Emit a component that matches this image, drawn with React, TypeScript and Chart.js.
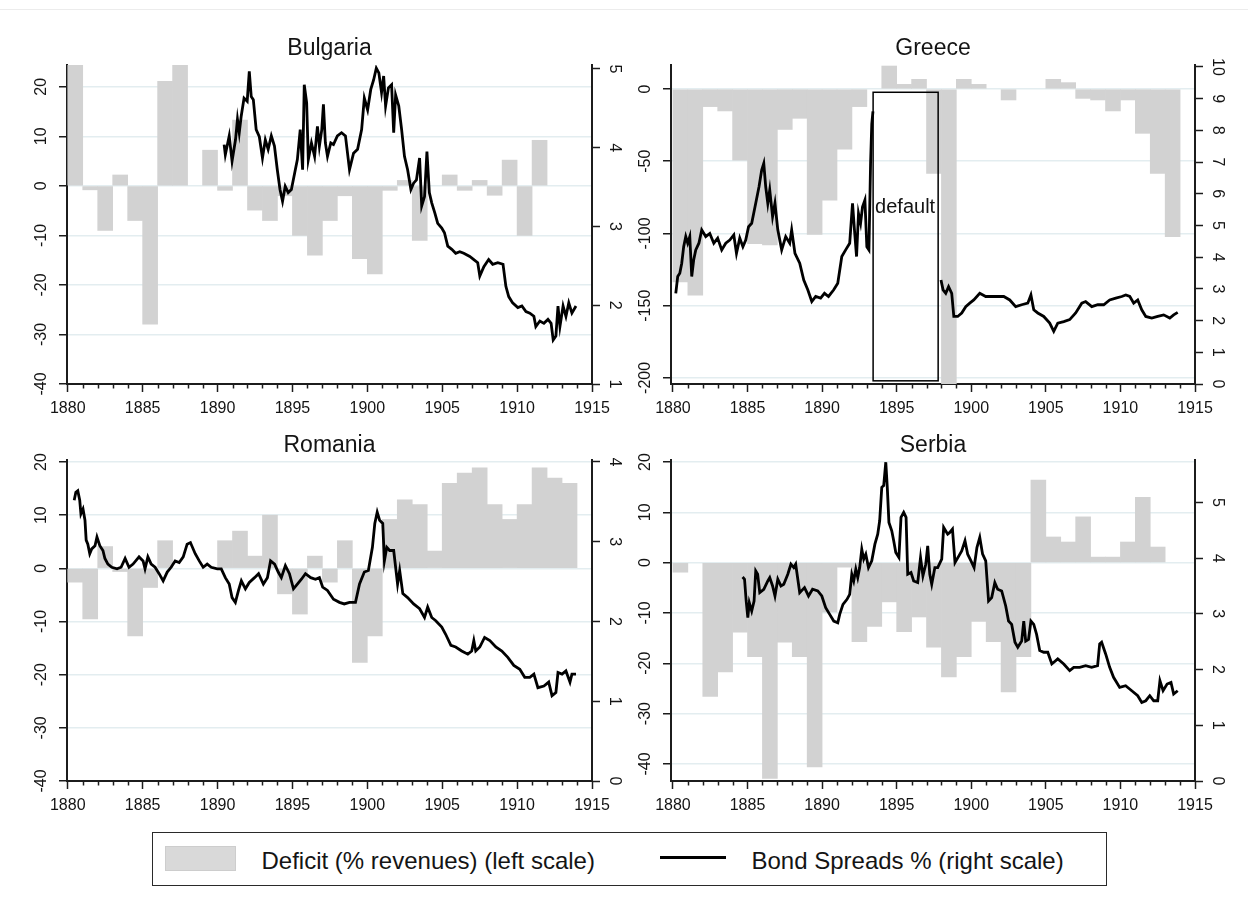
import React, { useEffect, useRef } from "react";
import { Chart, registerables } from "chart.js";

Chart.register(...registerables);

const FONT = '"Liberation Sans", Arial, Helvetica, sans-serif';
const TEXT = "#141414";
const AXIS = "#1c1c1c";
const GRID = "#e3edf0";
const BAR = "#d2d2d2";

Chart.defaults.font.family = FONT;

// ---------- data ----------
const deficitYears = [
  1880, 1881, 1882, 1883, 1884, 1885, 1886, 1887, 1888, 1889,
  1890, 1891, 1892, 1893, 1894, 1895, 1896, 1897, 1898, 1899,
  1900, 1901, 1902, 1903, 1904, 1905, 1906, 1907, 1908, 1909,
  1910, 1911, 1912, 1913,
];
const xTickYears = [1880, 1885, 1890, 1895, 1900, 1905, 1910, 1915];

const bulgariaDeficit = [
  24.4, -0.8, -9, 2.2, -7, -27.9, 21.1, 24.4, null, 7.2,
  -0.9, 13.3, -4.9, -7, -2, -10, -14, -7, -2, -14.7,
  -17.8, -0.9, 1.1, -11, null, 2.2, -0.9, 1.1, -1.9, 5.2,
  -10, 9.2, null, null,
];
const greeceDeficit = [
  -133.5, -142.7, -12.2, -15.2, -49.2, -107, -108, -28, -20.3, -100.7,
  -77, -41.6, -12.2, null, 15.9, 3.2, 6.7, -58.4, -204, 6.7,
  3.2, null, -7.6, null, null, 6.7, 4.4, -6.5, -7.6, -15.2,
  -7.6, -30.7, -58.4, -102.3,
];
const romaniaDeficit = [
  -2.6, -9.5, 4.1, -0.6, -12.7, -3.6, 5.2, null, null, null,
  5.2, 7.0, 2.3, 10, -4.8, -8.6, 2.3, -2.6, 5.2, -17.7,
  -12.7, 9.2, 12.9, 12, 3.25, 16, 17.9, 18.9, 12, 9.2,
  12, 18.9, 17, 16,
];
const serbiaDeficit = [
  -1.9, null, -26.6, -21.7, -13.8, -18.7, -42.9, -15.8, -18.7, -40.6,
  -9.8, -0.9, -15.7, -12.7, -7.8, -13.7, -10.8, -16.8, -22.7, -18.7,
  -11.7, -15.7, -25.7, -18.7, 16.4, 5.1, 4.1, 9.1, 1.1, 1.1,
  4.1, 13.0, 3.1, null,
];

const bulgariaSpreadDates = [
  1890.44, 1890.52, 1890.78, 1890.97, 1891.2, 1891.33, 1891.45, 1891.58, 1891.77, 1891.98,
  1892.12, 1892.25, 1892.39, 1892.58, 1892.79, 1893.0, 1893.19, 1893.38, 1893.59, 1893.8,
  1893.99, 1894.17, 1894.34, 1894.52, 1894.72, 1894.93, 1895.15, 1895.33, 1895.52, 1895.68,
  1895.79, 1895.95, 1896.06, 1896.27, 1896.48, 1896.67, 1896.8, 1896.96, 1897.07, 1897.2,
  1897.34, 1897.56, 1897.74, 1898.0, 1898.28, 1898.54, 1898.81, 1899.08, 1899.35, 1899.62,
  1899.8, 1900.02, 1900.23, 1900.42, 1900.6, 1900.77, 1900.95, 1901.09, 1901.22, 1901.41,
  1901.62, 1901.76, 1901.89, 1902.1, 1902.29, 1902.48, 1902.69, 1902.91, 1903.09, 1903.28,
  1903.49, 1903.63, 1903.82, 1903.98, 1904.14, 1904.3, 1904.51, 1904.7, 1904.97, 1905.15,
  1905.37, 1905.64, 1905.9, 1906.17, 1906.44, 1906.84, 1907.11, 1907.37, 1907.51, 1907.78,
  1908.1, 1908.37, 1908.71, 1909.06, 1909.25, 1909.44, 1909.7, 1910.05, 1910.32, 1910.59,
  1910.85, 1911.12, 1911.25, 1911.52, 1911.79, 1912.06, 1912.27, 1912.41, 1912.59, 1912.73,
  1912.86, 1913.07, 1913.26, 1913.45, 1913.66, 1913.93,
];
const bulgariaSpreadValues = [
  4.04, 3.91, 4.15, 3.83, 4.1, 4.36, 4.19, 4.4, 4.63, 4.59,
  4.97, 4.65, 4.61, 4.23, 4.14, 3.87, 4.1, 3.98, 4.15, 4.02,
  3.72, 3.47, 3.32, 3.51, 3.43, 3.47, 3.68, 3.85, 4.23, 3.72,
  4.8, 4.57, 3.85, 4.06, 3.89, 4.27, 4.02, 4.23, 4.55, 4.06,
  3.89, 4.06, 4.04, 4.15, 4.19, 4.15, 3.72, 3.93, 3.98, 4.23,
  4.63, 4.48, 4.74, 4.86, 5.01, 4.95, 4.7, 4.91, 4.53, 4.76,
  4.8, 4.19, 4.67, 4.53, 4.23, 3.89, 3.72, 3.47, 3.55, 3.59,
  3.87, 3.26, 3.38, 3.95, 3.43, 3.3, 3.17, 3.04, 2.98, 2.92,
  2.75, 2.71, 2.66, 2.68, 2.66, 2.62, 2.58, 2.54, 2.37, 2.49,
  2.58, 2.52, 2.54, 2.52, 2.24, 2.11, 2.03, 1.97, 1.99, 1.92,
  1.9, 1.86, 1.73, 1.8, 1.77, 1.82, 1.77, 1.56, 1.61, 1.99,
  1.73, 1.99, 1.86, 2.03, 1.9, 1.99,
];

const greeceSpreadDates = [
  1880.19, 1880.32, 1880.46, 1880.59, 1880.72, 1880.86, 1880.99, 1881.13, 1881.26, 1881.39,
  1881.53, 1881.74, 1881.93, 1882.2, 1882.47, 1882.74, 1883.0, 1883.27, 1883.54, 1883.81,
  1884.08, 1884.26, 1884.48, 1884.69, 1884.88, 1885.07, 1885.28, 1885.55, 1885.77, 1885.95,
  1886.09, 1886.22, 1886.36, 1886.49, 1886.68, 1886.84, 1887.03, 1887.29, 1887.56, 1887.83,
  1887.96, 1888.18, 1888.5, 1888.77, 1889.04, 1889.31, 1889.57, 1889.9, 1890.16, 1890.43,
  1890.78, 1891.05, 1891.32, 1891.58, 1891.85, 1892.04, 1892.17, 1892.31, 1892.44, 1892.58,
  1892.71, 1892.87, 1893.0, 1893.14, 1893.25, 1893.33, 1893.41,
  1895.7,
  1897.97, 1898.11, 1898.29, 1898.48, 1898.69, 1898.83, 1899.09, 1899.36, 1899.63, 1899.9,
  1900.17, 1900.57, 1900.97, 1901.37, 1901.78, 1902.18, 1902.58, 1902.98, 1903.38, 1903.79,
  1904.0, 1904.19, 1904.46, 1904.86, 1905.26, 1905.53, 1905.8, 1906.2, 1906.6, 1907.0,
  1907.41, 1907.67, 1908.08, 1908.48, 1908.88, 1909.28, 1909.69, 1910.09, 1910.36, 1910.63,
  1910.89, 1911.16, 1911.43, 1911.7, 1912.1, 1912.5, 1912.9, 1913.31, 1913.57, 1913.84,
];
const greeceSpreadValues = [
  2.86, 3.39, 3.49, 3.81, 4.33, 4.65, 4.44, 4.65, 3.39, 3.91,
  4.23, 4.44, 4.86, 4.65, 4.75, 4.44, 4.6, 4.23, 4.44, 4.54,
  4.7, 4.12, 4.6, 4.33, 4.54, 4.96, 5.07, 5.7, 6.22, 6.75,
  6.96, 6.22, 5.7, 6.12, 5.28, 5.7, 4.86, 4.23, 4.65, 4.44,
  4.86, 4.12, 3.81, 3.28, 2.97, 2.6, 2.76, 2.71, 2.86, 2.76,
  2.97, 3.18, 4.02, 4.23, 4.44, 5.7, 4.86, 4.02, 5.38, 5.07,
  5.59, 5.8, 4.33, 4.23, 6.96, 8.2, 8.6,
  null,
  3.28, 2.97, 2.86, 3.07, 2.86, 2.13, 2.13, 2.24, 2.44, 2.55,
  2.65, 2.86, 2.76, 2.76, 2.76, 2.76, 2.65, 2.44, 2.5, 2.55,
  2.81, 2.34, 2.24, 2.13, 1.92, 1.66, 1.92, 1.97, 2.03, 2.24,
  2.55, 2.6, 2.44, 2.5, 2.5, 2.65, 2.71, 2.76, 2.81, 2.76,
  2.55, 2.65, 2.34, 2.13, 2.08, 2.13, 2.18, 2.08, 2.18, 2.26,
];

const romaniaSpreadDates = [
  1880.43, 1880.54, 1880.67, 1880.8, 1880.88, 1881.02, 1881.15, 1881.23, 1881.34, 1881.47,
  1881.6, 1881.82, 1881.95, 1882.14, 1882.35, 1882.48, 1882.68, 1882.94, 1883.29, 1883.56,
  1883.83, 1884.09, 1884.36, 1884.76, 1885.03, 1885.16, 1885.35, 1885.57, 1885.83, 1886.1,
  1886.37, 1886.64, 1886.9, 1887.17, 1887.44, 1887.71, 1887.97, 1888.19, 1888.51, 1888.78,
  1889.04, 1889.31, 1889.58, 1889.98, 1890.25, 1890.52, 1890.78, 1890.97, 1891.19, 1891.4,
  1891.59, 1891.86, 1892.12, 1892.47, 1892.74, 1893.06, 1893.33, 1893.54, 1893.81, 1894.05,
  1894.26, 1894.53, 1894.8, 1895.07, 1895.33, 1895.6, 1895.87, 1896.22, 1896.54, 1896.8,
  1897.02, 1897.34, 1897.74, 1898.14, 1898.46, 1898.81, 1899.21, 1899.48, 1899.8, 1900.07,
  1900.34, 1900.5, 1900.66, 1900.82, 1901.03, 1901.14, 1901.3, 1901.49, 1901.76, 1902.02,
  1902.16, 1902.37, 1902.69, 1903.09, 1903.49, 1903.82, 1904.03, 1904.3, 1904.57, 1904.97,
  1905.23, 1905.58, 1905.9, 1906.3, 1906.71, 1906.97, 1907.11, 1907.24, 1907.51, 1907.83,
  1908.18, 1908.58, 1908.98, 1909.38, 1909.78, 1910.18, 1910.51, 1910.85, 1911.12, 1911.39,
  1911.79, 1912.11, 1912.33, 1912.59, 1912.73, 1913.0, 1913.26, 1913.53, 1913.66, 1913.93,
];
const romaniaSpreadValues = [
  3.52, 3.62, 3.64, 3.52, 3.35, 3.41, 3.27, 3.02, 2.97, 2.85,
  2.91, 2.95, 3.06, 2.95, 2.89, 2.79, 2.72, 2.68, 2.66, 2.68,
  2.79, 2.68, 2.72, 2.81, 2.76, 2.66, 2.81, 2.72, 2.68, 2.6,
  2.51, 2.62, 2.68, 2.76, 2.74, 2.81, 2.97, 2.99, 2.85, 2.76,
  2.68, 2.72, 2.68, 2.66, 2.66, 2.55, 2.47, 2.3, 2.24, 2.39,
  2.51, 2.41, 2.49, 2.55, 2.6, 2.47, 2.55, 2.76, 2.72, 2.62,
  2.55, 2.7, 2.6, 2.41, 2.47, 2.53, 2.6, 2.55, 2.53, 2.55,
  2.43, 2.39, 2.28, 2.24, 2.22, 2.24, 2.24, 2.47, 2.62, 2.64,
  2.93, 3.23, 3.37, 3.27, 3.23, 2.76, 2.93, 2.89, 2.89, 2.47,
  2.64, 2.35, 2.3, 2.22, 2.16, 2.05, 2.18, 2.05, 2.01, 1.93,
  1.84, 1.7, 1.68, 1.63, 1.59, 1.63, 1.76, 1.63, 1.68, 1.8,
  1.76, 1.68, 1.63, 1.55, 1.45, 1.4, 1.3, 1.3, 1.34, 1.17,
  1.19, 1.24, 1.07, 1.11, 1.36, 1.34, 1.38, 1.24, 1.34, 1.34,
];

const serbiaSpreadDates = [
  1884.67, 1884.8, 1884.91, 1885.02, 1885.12, 1885.28, 1885.44, 1885.55, 1885.68, 1885.82,
  1886.09, 1886.36, 1886.49, 1886.68, 1886.84, 1887.03, 1887.24, 1887.43, 1887.7, 1887.91,
  1888.1, 1888.23, 1888.5, 1888.82, 1889.09, 1889.36, 1889.71, 1889.98, 1890.24, 1890.51,
  1890.78, 1891.05, 1891.18, 1891.4, 1891.67, 1891.85, 1891.99, 1892.12, 1892.26, 1892.39,
  1892.52, 1892.66, 1892.79, 1892.93, 1893.11, 1893.33, 1893.54, 1893.73, 1893.86, 1894.0,
  1894.13, 1894.27, 1894.37, 1894.48, 1894.67, 1894.8, 1894.94, 1895.15, 1895.29, 1895.47,
  1895.63, 1895.74, 1895.96, 1896.14, 1896.41, 1896.6, 1896.76, 1896.95, 1897.08, 1897.22,
  1897.35, 1897.56, 1897.75, 1898.02, 1898.15, 1898.42, 1898.56, 1898.74, 1898.91, 1899.17,
  1899.36, 1899.58, 1899.76, 1899.98, 1900.19, 1900.38, 1900.57, 1900.76, 1900.97, 1901.16,
  1901.37, 1901.58, 1901.77, 1902.04, 1902.31, 1902.5, 1902.71, 1902.93, 1903.12, 1903.38,
  1903.52, 1903.65, 1903.84, 1904.0, 1904.19, 1904.38, 1904.59, 1904.86, 1905.13, 1905.4,
  1905.8, 1906.2, 1906.6, 1906.87, 1907.27, 1907.67, 1908.07, 1908.47, 1908.61, 1908.74,
  1909.01, 1909.28, 1909.54, 1909.95, 1910.35, 1910.76, 1911.16, 1911.43, 1911.7, 1911.97,
  1912.23, 1912.5, 1912.65, 1912.86, 1913.13, 1913.39, 1913.57, 1913.84,
];
const serbiaSpreadValues = [
  3.66, 3.62, 3.23, 2.93, 3.2, 3.05, 3.23, 3.77, 3.71, 3.38,
  3.44, 3.59, 3.65, 3.5, 3.32, 3.62, 3.5, 3.53, 3.71, 3.89,
  3.83, 3.89, 3.38, 3.47, 3.32, 3.44, 3.41, 3.32, 3.11, 2.99,
  2.87, 2.84, 2.99, 3.17, 3.26, 3.35, 3.71, 3.59, 3.8, 3.65,
  3.83, 4.16, 3.98, 4.07, 3.83, 3.95, 4.25, 4.43, 4.67, 5.27,
  5.3, 5.72, 5.27, 4.64, 4.49, 4.31, 4.1, 4.01, 4.73, 4.82,
  4.73, 3.71, 3.74, 3.59, 3.56, 4.01, 3.68, 3.89, 4.22, 3.71,
  3.53, 3.83, 3.83, 3.98, 4.55, 4.43, 4.46, 4.52, 3.92, 4.04,
  4.13, 4.31, 4.07, 3.95, 3.83, 4.19, 4.37, 4.07, 3.95, 3.23,
  3.29, 3.56, 3.44, 3.41, 3.14, 2.87, 2.81, 2.49, 2.4, 2.51,
  2.87, 2.51, 2.54, 2.87, 2.81, 2.63, 2.34, 2.31, 2.31, 2.1,
  2.19, 2.1, 1.98, 2.04, 2.04, 2.07, 2.04, 2.07, 2.46, 2.49,
  2.28, 2.04, 1.86, 1.68, 1.71, 1.62, 1.53, 1.41, 1.44, 1.53,
  1.44, 1.44, 1.8, 1.62, 1.74, 1.77, 1.56, 1.62,
];

const bulgariaLeftTicks = [-40, -30, -20, -10, 0, 10, 20];
const bulgariaRightTicks = [1, 2, 3, 4, 5];
const greeceLeftTicks = [-200, -150, -100, -50, 0];
const greeceRightTicks = [0, 1, 2, 3, 4, 5, 6, 7, 8, 9, 10];
const romaniaLeftTicks = [-40, -30, -20, -10, 0, 10, 20];
const romaniaRightTicks = [0, 1, 2, 3, 4];
const serbiaLeftTicks = [-40, -30, -20, -10, 0, 10, 20];
const serbiaRightTicks = [0, 1, 2, 3, 4, 5];

// Greek default period annotation (x in years, y in right-scale units)
const greeceDefaultPeriod = { start: 1893.42, end: 1897.78, top: 9.2, bottom: 0.1, labelY: 5.4, label: "default" };

type PanelCfg = {
  title: string;
  left: number;
  top: number;
  width: number;
  height: number;
  padding: { left: number; right: number; top: number; bottom: number };
  titleBaseline: number;
  xMin: number;
  xMax: number;
  leftMin: number;
  leftMax: number;
  leftTicks: number[];
  rightMin: number;
  rightMax: number;
  rightTicks: number[];
  deficit: (number | null)[];
  spreadDates: number[];
  spreadValues: (number | null)[];
  defaultBox?: typeof greeceDefaultPeriod;
};

const panels: PanelCfg[] = [
  {
    title: "Bulgaria", left: 0, top: 0, width: 624, height: 420,
    padding: { left: 59, right: 24, top: 65, bottom: 6 }, titleBaseline: 55,
    xMin: 1879.95, xMax: 1915,
    leftMin: -40, leftMax: 24.4, leftTicks: bulgariaLeftTicks,
    rightMin: 1, rightMax: 5.05, rightTicks: bulgariaRightTicks,
    deficit: bulgariaDeficit, spreadDates: bulgariaSpreadDates, spreadValues: bulgariaSpreadValues,
  },
  {
    title: "Greece", left: 624, top: 0, width: 624, height: 420,
    padding: { left: 39, right: 45, top: 65, bottom: 6 }, titleBaseline: 55,
    xMin: 1879.87, xMax: 1915,
    leftMin: -204.2, leftMax: 16.6, leftTicks: greeceLeftTicks,
    rightMin: 0, rightMax: 10.06, rightTicks: greeceRightTicks,
    deficit: greeceDeficit, spreadDates: greeceSpreadDates, spreadValues: greeceSpreadValues,
    defaultBox: greeceDefaultPeriod,
  },
  {
    title: "Romania", left: 0, top: 420, width: 624, height: 410,
    padding: { left: 59, right: 24, top: 40, bottom: 19 }, titleBaseline: 32,
    xMin: 1879.95, xMax: 1915,
    leftMin: -40, leftMax: 20.38, leftTicks: romaniaLeftTicks,
    rightMin: 0, rightMax: 4.025, rightTicks: romaniaRightTicks,
    deficit: romaniaDeficit, spreadDates: romaniaSpreadDates, spreadValues: romaniaSpreadValues,
  },
  {
    title: "Serbia", left: 624, top: 420, width: 624, height: 410,
    padding: { left: 39, right: 45, top: 40, bottom: 19 }, titleBaseline: 32,
    xMin: 1879.87, xMax: 1915,
    leftMin: -43.4, leftMax: 20.4, leftTicks: serbiaLeftTicks,
    rightMin: 0, rightMax: 5.76, rightTicks: serbiaRightTicks,
    deficit: serbiaDeficit, spreadDates: serbiaSpreadDates, spreadValues: serbiaSpreadValues,
  },
];

const decorPlugin = {
  id: "decor",
  afterDraw(chart: any, _args: any, opts: any) {
    const ctx: CanvasRenderingContext2D = chart.ctx;
    const { left, right, bottom } = chart.chartArea;
    const xs = chart.scales.x;
    const yl = chart.scales.y;
    const yr = chart.scales.y1;
    ctx.save();
    // title
    ctx.fillStyle = TEXT;
    ctx.font = `23px ${FONT}`;
    ctx.textAlign = "center";
    ctx.textBaseline = "alphabetic";
    ctx.fillText(opts.title, (left + right) / 2, opts.titleBaseline);
    // minor x ticks (every year)
    ctx.strokeStyle = AXIS;
    ctx.lineWidth = 1.5;
    for (let yv = Math.ceil(xs.min); yv <= Math.floor(xs.max); yv++) {
      if (yv % 5 === 0) continue;
      const px = Math.round(xs.getPixelForValue(yv)) + 0.5;
      ctx.beginPath();
      ctx.moveTo(px, bottom);
      ctx.lineTo(px, bottom + 4.5);
      ctx.stroke();
    }
    // rotated y labels
    ctx.font = `16px ${FONT}`;
    ctx.textAlign = "center";
    ctx.textBaseline = "middle";
    for (const t of yl.ticks) {
      const py = yl.getPixelForValue(t.value);
      ctx.save();
      ctx.translate(left - 25, py);
      ctx.rotate(-Math.PI / 2);
      ctx.fillText(String(t.value), 0, 0);
      ctx.restore();
    }
    for (const t of yr.ticks) {
      const py = yr.getPixelForValue(t.value);
      ctx.save();
      ctx.translate(right + 22, py);
      ctx.rotate(Math.PI / 2);
      ctx.fillText(String(t.value), 0, 0);
      ctx.restore();
    }
    // default period box
    const box = opts.defaultBox;
    if (box) {
      const x0 = xs.getPixelForValue(box.start);
      const x1 = xs.getPixelForValue(box.end);
      const y0 = yr.getPixelForValue(box.top);
      const y1 = yr.getPixelForValue(box.bottom);
      ctx.strokeStyle = "#000";
      ctx.lineWidth = 1.5;
      ctx.strokeRect(x0, y0, x1 - x0, y1 - y0);
      ctx.fillStyle = TEXT;
      ctx.font = `20px ${FONT}`;
      ctx.textAlign = "left";
      ctx.textBaseline = "alphabetic";
      ctx.fillText(box.label, x0 + 2, yr.getPixelForValue(box.labelY));
    }
    ctx.restore();
  },
};

function Panel({ cfg }: { cfg: PanelCfg }) {
  const ref = useRef<HTMLCanvasElement | null>(null);
  useEffect(() => {
    const canvas = ref.current;
    if (!canvas) return;
    const barData = deficitYears
      .map((yr, i) => ({ x: yr + 0.5, y: cfg.deficit[i] }))
      .filter((d) => d.y !== null && d.y !== undefined);
    const lineData = cfg.spreadDates.map((d, i) => ({ x: d, y: cfg.spreadValues[i] }));
    const leftMin = cfg.leftMin;
    const chart = new Chart(canvas, {
      type: "bar",
      data: {
        datasets: [
          {
            type: "bar",
            label: "Deficit (% revenues) (left scale)",
            data: barData as any,
            backgroundColor: BAR,
            borderWidth: 0,
            barPercentage: 1,
            categoryPercentage: 1,
            grouped: false,
            xAxisID: "x",
            yAxisID: "y",
            order: 2,
          } as any,
          {
            type: "line",
            label: "Bond Spreads % (right scale)",
            data: lineData as any,
            borderColor: "#000",
            borderWidth: 2.8,
            pointRadius: 0,
            tension: 0,
            spanGaps: false,
            xAxisID: "x",
            yAxisID: "y1",
            order: 1,
          } as any,
        ],
      },
      options: {
        responsive: false,
        animation: false,
        devicePixelRatio: 1,
        events: [],
        layout: { padding: cfg.padding },
        plugins: {
          legend: { display: false },
          tooltip: { enabled: false },
          title: { display: false },
          decor: { title: cfg.title, titleBaseline: cfg.titleBaseline, defaultBox: cfg.defaultBox },
        } as any,
        scales: {
          x: {
            type: "linear",
            position: "bottom",
            offset: false,
            min: cfg.xMin,
            max: cfg.xMax,
            afterBuildTicks: (s: any) => {
              s.ticks = xTickYears.map((v) => ({ value: v }));
            },
            afterFit: (s: any) => {
              s.height = 30;
            },
            ticks: {
              autoSkip: false,
              maxRotation: 0,
              minRotation: 0,
              color: TEXT,
              font: { family: FONT, size: 16 },
              padding: 7,
              callback: (v: any) => String(v),
            },
            grid: { offset: false, drawOnChartArea: false, drawTicks: true, tickLength: 8, tickColor: AXIS, tickWidth: 1.5 },
            border: { display: true, color: AXIS, width: 2 },
          },
          y: {
            type: "linear",
            position: "left",
            min: cfg.leftMin,
            max: cfg.leftMax,
            afterBuildTicks: (s: any) => {
              s.ticks = cfg.leftTicks.map((v) => ({ value: v }));
            },
            afterFit: (s: any) => {
              s.width = 8;
            },
            ticks: { display: false },
            grid: {
              drawOnChartArea: true,
              drawTicks: true,
              tickLength: 8,
              tickColor: AXIS,
              tickWidth: 1.5,
              lineWidth: 1.5,
              color: (c: any) => (c.tick && Math.abs(c.tick.value - leftMin) < 1e-6 ? "rgba(0,0,0,0)" : GRID),
            },
            border: { display: true, color: AXIS, width: 2 },
          },
          y1: {
            type: "linear",
            position: "right",
            min: cfg.rightMin,
            max: cfg.rightMax,
            afterBuildTicks: (s: any) => {
              s.ticks = cfg.rightTicks.map((v) => ({ value: v }));
            },
            afterFit: (s: any) => {
              s.width = 8;
            },
            ticks: { display: false },
            grid: { drawOnChartArea: false, drawTicks: true, tickLength: 8, tickColor: AXIS, tickWidth: 1.5 },
            border: { display: true, color: AXIS, width: 2 },
          },
        },
      } as any,
      plugins: [decorPlugin as any],
    });
    return () => chart.destroy();
  }, [cfg]);
  return (
    <canvas
      ref={ref}
      width={cfg.width}
      height={cfg.height}
      style={{ position: "absolute", left: cfg.left, top: cfg.top, width: cfg.width, height: cfg.height }}
    />
  );
}

function Legend() {
  const textStyle: React.CSSProperties = {
    position: "absolute",
    top: 16,
    font: `24px ${FONT}`,
    lineHeight: "24px",
    color: TEXT,
    whiteSpace: "nowrap",
  };
  return (
    <div
      style={{
        position: "absolute",
        left: 152,
        top: 832,
        width: 955,
        height: 54,
        border: "1.5px solid #2a2a2a",
        boxSizing: "border-box",
        background: "#fff",
      }}
    >
      <div
        style={{
          position: "absolute",
          left: 11.5,
          top: 12.5,
          width: 71,
          height: 25,
          background: "#d9d9d9",
          border: "1px solid #cdcdcd",
          boxSizing: "border-box",
        }}
      />
      <span style={{ ...textStyle, left: 108.5 }}>Deficit (% revenues) (left scale)</span>
      <div style={{ position: "absolute", left: 506.5, top: 23, width: 66, height: 3, background: "#000" }} />
      <span style={{ ...textStyle, left: 598.5 }}>Bond Spreads % (right scale)</span>
    </div>
  );
}

export default function App() {
  return (
    <div
      style={{
        position: "absolute",
        left: 0,
        top: 0,
        width: 1248,
        height: 911,
        background: "#fff",
        fontFamily: FONT,
        overflow: "hidden",
      }}
    >
      <div style={{ position: "absolute", left: 0, top: 9, width: 1248, height: 1, background: "#ececec" }} />
      {panels.map((p) => (
        <Panel key={p.title} cfg={p} />
      ))}
      <Legend />
    </div>
  );
}
